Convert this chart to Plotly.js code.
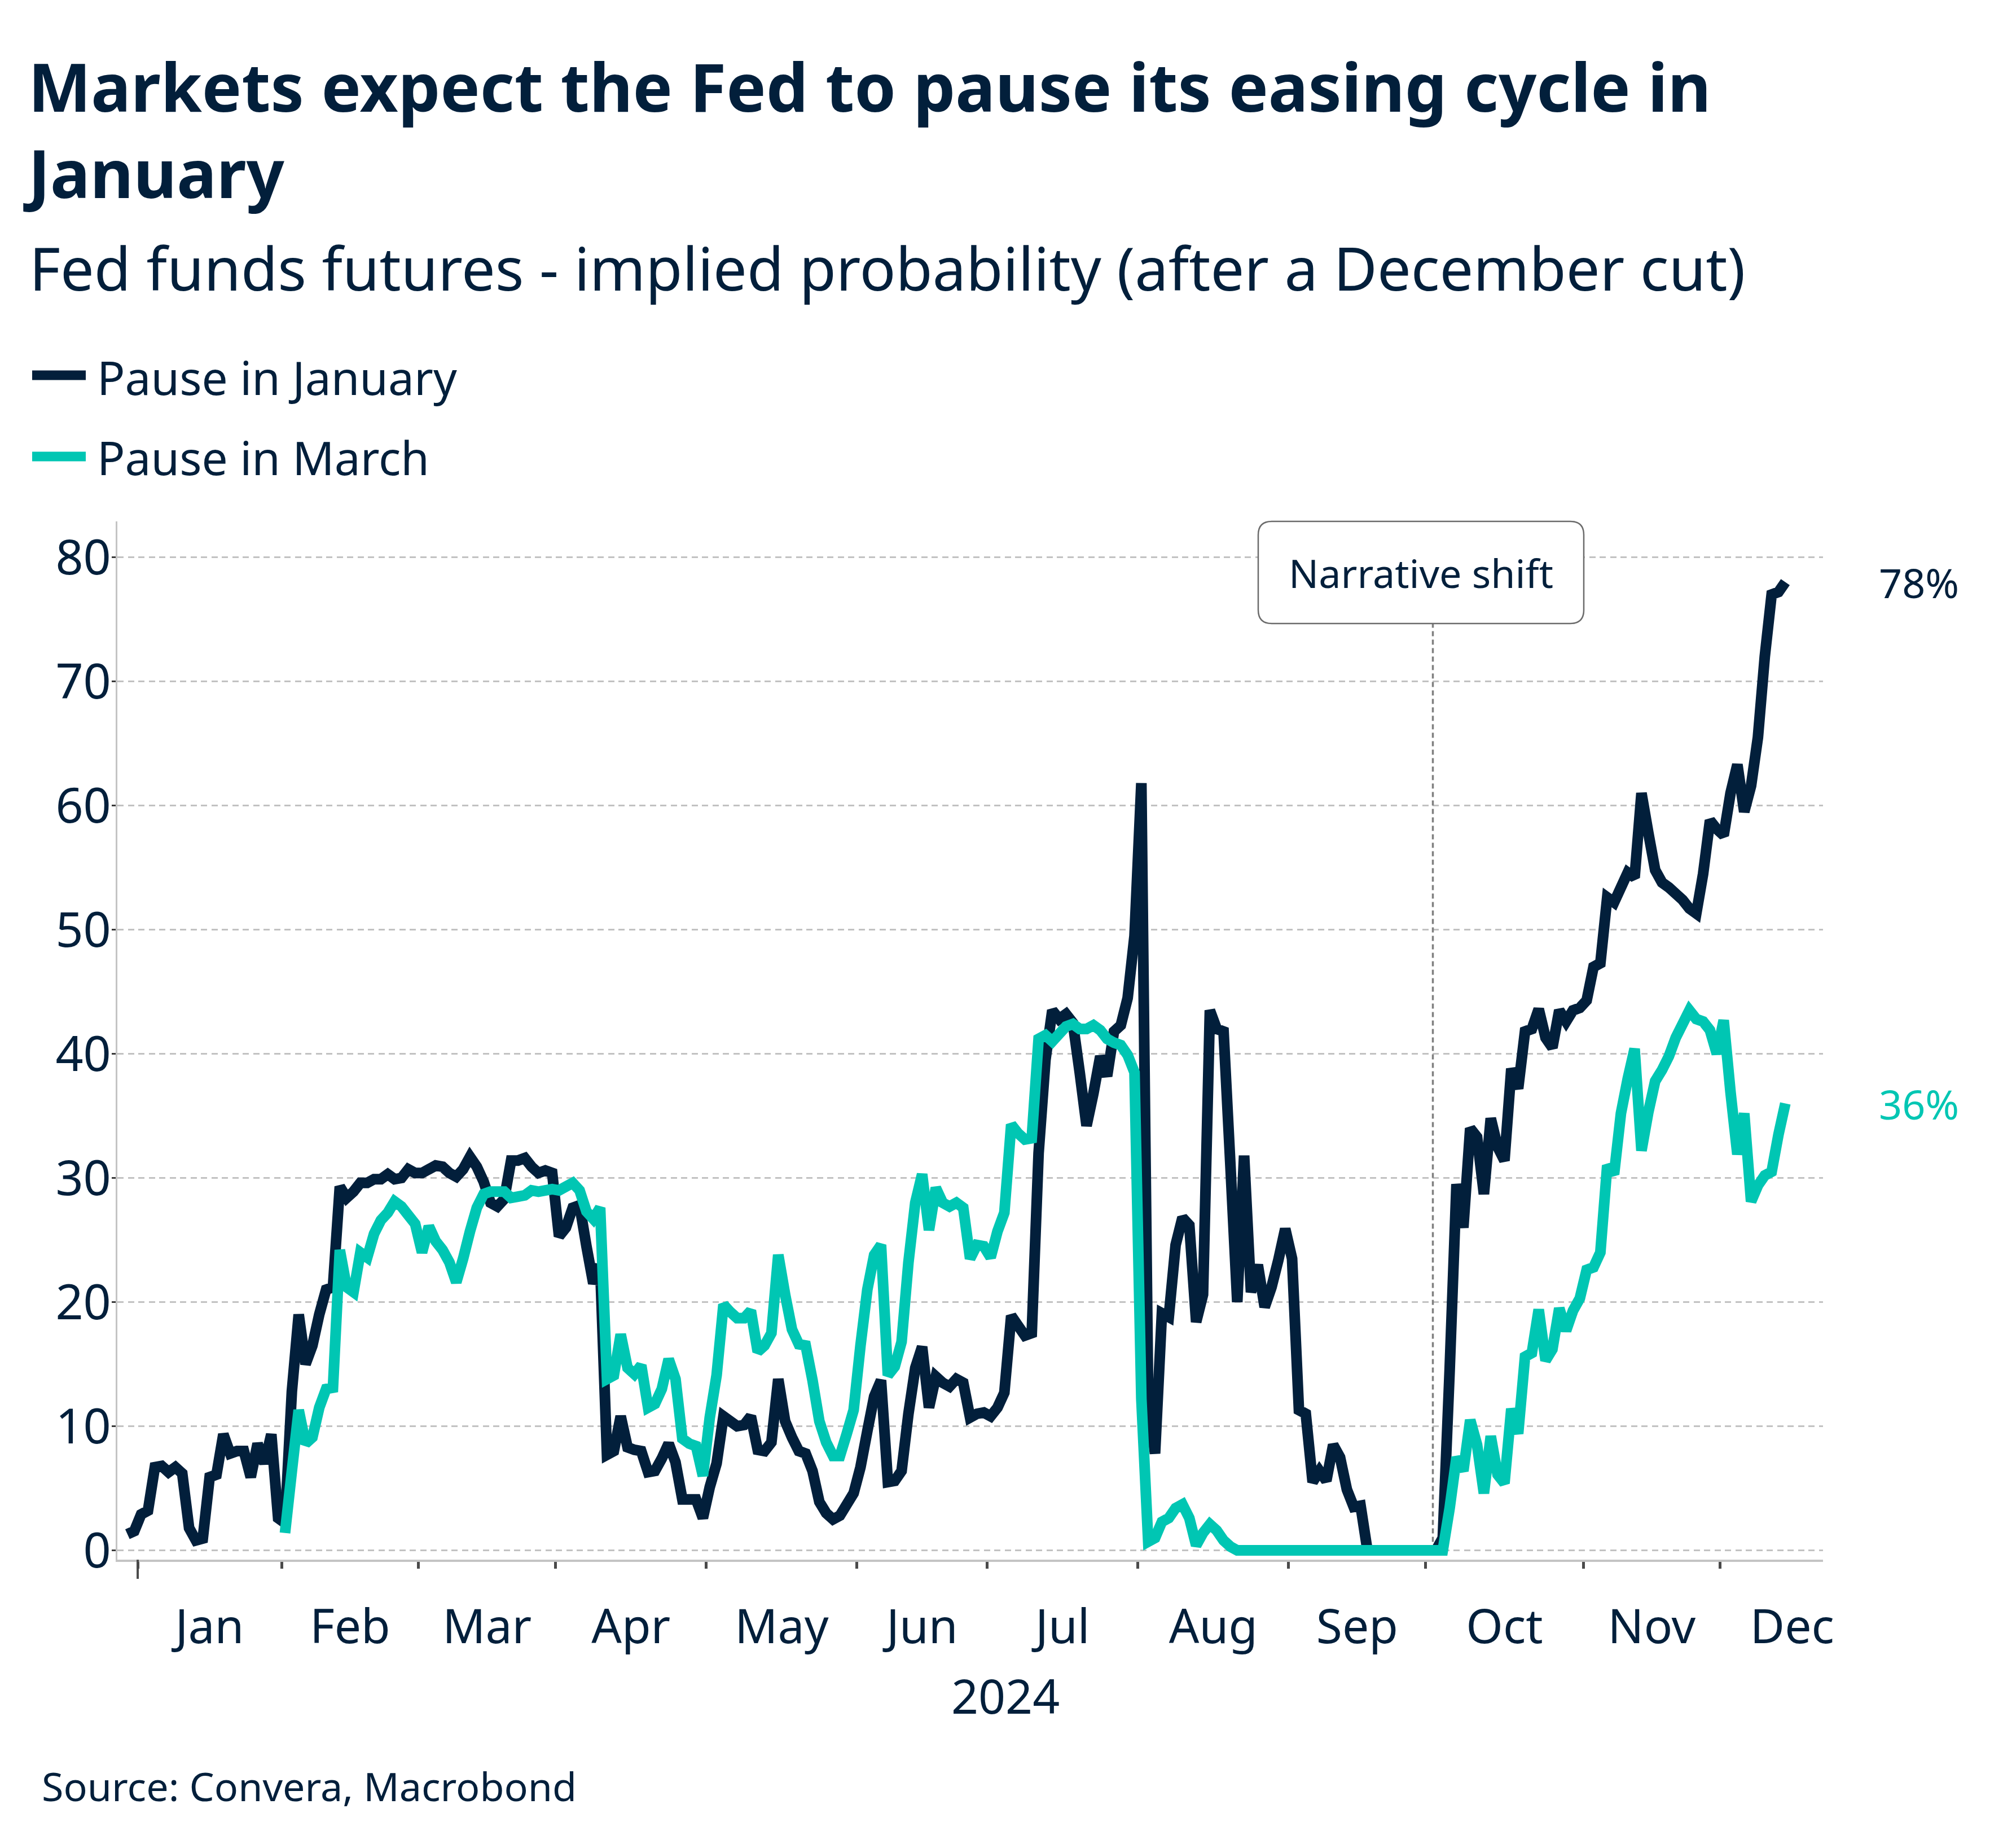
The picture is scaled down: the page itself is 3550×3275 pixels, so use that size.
<!DOCTYPE html>
<html>
<head>
<meta charset="utf-8">
<script src="https://cdn.plot.ly/plotly-3.0.1.min.js"></script>
<style>
  html, body { margin: 0; padding: 0; background: #ffffff; }
  #chart { width: 3550px; height: 3275px; }
</style>
</head>
<body>
<div id="chart"></div>
<script>
// ---------------- DATA ----------------
// x axis = trading-day index (Jan 2 2024 = 0); the series start two sessions earlier (late Dec 2023)
const monthLabels = ['Jan','Feb','Mar','Apr','May','Jun','Jul','Aug','Sep','Oct','Nov','Dec'];
const monthStartIdx = [0, 21, 41, 61, 83, 105, 124, 146, 168, 188, 211, 231];
const nextYearStartIdx = 252;
const janStartIdx = -2;   // first observation of "Pause in January"
const marStartIdx = 21;   // first observation of "Pause in March"
const narrativeShiftIdx = 188.55;
const narrativeShiftTop = 74.66;

// Pause in January (implied probability, %)
const janPause = [
  1.3, 1.55, 2.9, 3.2, 6.7, 6.8, 6.3, 6.7, 6.2, 1.8, 0.8, 0.95,
  5.9, 6.1, 9.35, 7.8, 8.0, 8.0, 5.9, 8.6, 7.0, 9.35, 2.6,
  2.2, 12.8, 19.0, 15.0, 16.5, 19.0, 21.0, 21.2, 29.3, 28.4,
  28.9, 29.6, 29.6, 29.9, 29.9, 30.3, 29.9, 30.0, 30.7, 30.4,
  30.4, 30.7, 31.0, 30.9, 30.4, 30.1, 30.7, 31.7, 30.9, 29.7,
  28.0, 27.7, 28.3, 31.4, 31.4, 31.6, 30.9, 30.4, 30.6, 30.4,
  25.3, 26.0, 27.6, 27.8, 24.5, 21.5, 23.0, 7.7, 8.0, 10.8,
  8.3, 8.1, 8.0, 6.3, 6.4, 7.4, 8.6, 7.1, 4.1, 4.1,
  4.1, 2.6, 5.1, 7.0, 10.8, 10.4, 10.0, 10.1, 10.8, 8.1,
  8.0, 8.7, 13.8, 10.4, 9.1, 8.0, 7.8, 6.4, 3.9, 3.0,
  2.5, 2.8, 3.7, 4.6, 6.7, 9.6, 12.4, 13.7, 5.5, 5.6,
  6.4, 11.0, 14.7, 16.4, 11.5, 14.0, 13.5, 13.2, 13.8, 13.5,
  10.7, 11.0, 11.1, 10.8, 11.5, 12.7, 18.9, 18.1, 17.3, 17.5,
  32.0, 39.5, 43.5, 42.8, 43.2, 42.5, 38.5, 34.2, 36.8, 39.8,
  38.2, 41.8, 42.3, 44.5, 49.5, 61.8, 12.0, 7.8, 19.1, 18.8,
  24.6, 26.8, 26.2, 18.4, 20.6, 43.5, 42.0, 41.8, 31.0, 20.0,
  31.8, 20.8, 23.0, 19.6, 21.2, 23.4, 25.9, 23.5, 11.3, 11.0,
  5.5, 6.4, 5.6, 8.5, 7.5, 4.9, 3.5, 3.6, 0, 0,
  0, 0, 0, 0, 0, 0, 0, 0, 0, 1.0,
  14.5, 29.5, 26.0, 34.0, 33.3, 28.7, 34.8, 32.5, 31.4, 38.8,
  37.2, 41.8, 42.0, 43.6, 41.3, 40.5, 43.5, 42.6, 43.5, 43.7,
  44.3, 47.0, 47.3, 52.6, 52.2, 53.4, 54.6, 54.2, 61.0, 57.8,
  54.8, 53.8, 53.4, 52.9, 52.4, 51.7, 51.3, 54.5, 58.8, 58.1,
  57.6, 61.0, 63.3, 59.5, 61.6, 65.5, 72.0, 77.0, 77.2, 78.0
];

// Pause in March (implied probability, %)
const marPause = [
  1.4, 6.4, 11.3, 8.6, 9.1, 11.5, 13.0, 13.1, 24.2, 21.2,
  20.8, 24.0, 23.6, 25.5, 26.6, 27.2, 28.1, 27.7, 27.0, 26.3,
  24.0, 26.1, 24.9, 24.2, 23.2, 21.6, 23.5, 25.7, 27.6, 28.7,
  28.9, 28.9, 28.9, 28.4, 28.5, 28.6, 29.0, 28.9, 29.0, 29.1,
  29.0, 29.3, 29.6, 29.0, 27.3, 26.7, 27.6, 13.8, 14.1, 17.4,
  14.7, 14.2, 14.9, 11.5, 11.8, 13.0, 15.4, 13.8, 9.0, 8.6,
  8.4, 6.0, 10.7, 14.1, 19.8, 19.2, 18.7, 18.7, 19.3, 16.0,
  16.5, 17.5, 23.8, 20.6, 17.8, 16.6, 16.5, 13.7, 10.4, 8.7,
  7.6, 7.6, 9.4, 11.3, 16.5, 21.0, 23.8, 24.6, 14.1, 14.8,
  16.8, 23.2, 28.0, 30.3, 25.8, 29.2, 28.0, 27.7, 28.0, 27.6,
  23.5, 24.6, 24.5, 23.6, 25.7, 27.2, 34.3, 33.6, 33.1, 33.2,
  41.2, 41.5, 41.0, 41.6, 42.2, 42.4, 42.0, 42.0, 42.3, 41.9,
  41.2, 40.9, 40.7, 39.9, 38.5, 12.2, 0.7, 1.0, 2.3, 2.6,
  3.4, 3.7, 2.6, 0.4, 1.4, 2.1, 1.6, 0.8, 0.3, 0,
  0, 0, 0, 0, 0, 0, 0, 0, 0, 0,
  0, 0, 0, 0, 0, 0, 0, 0, 0, 0,
  0, 0, 0, 0, 0, 0, 0, 0, 0, 0,
  3.4, 7.5, 6.4, 10.5, 8.5, 4.6, 9.2, 6.1, 5.4, 11.4,
  9.4, 15.6, 15.9, 19.4, 15.3, 16.2, 19.5, 17.7, 19.3, 20.3,
  22.6, 22.8, 24.0, 31.0, 30.3, 35.2, 38.0, 40.4, 32.2, 35.3,
  37.8, 38.7, 39.8, 41.3, 42.4, 43.5, 42.8, 42.6, 41.9, 40.0,
  42.7, 36.9, 31.9, 35.2, 28.1, 29.4, 30.2, 30.5, 33.5, 36.0
];

// ---------------- STYLE / LAYOUT ----------------
const NAVY = '#021f3b';
const TEAL = '#00c6b3';
const FONT = 'Noto Sans, Open Sans, sans-serif';
const LINE_W = 19;
const W = 3550, H = 3275;
const L = 208, R = 3231, T = 924, B = 2764;     // plot area in page pixels
const px = v => (v - L) / (R - L);               // page px -> paper x
const py = v => (B - v) / (B - T);               // page px -> paper y

const janX = janPause.map((_, k) => janStartIdx + k);
const marX = marPause.map((_, k) => marStartIdx + k);

const boundaries = monthStartIdx.map(s => s - 0.5);
const starts = monthStartIdx.concat([nextYearStartIdx]);
const labelPos = monthLabels.map((_, k) => (starts[k] + starts[k + 1]) / 2 - 0.5);

const traces = [
  { x: janX, y: janPause, type: 'scatter', mode: 'lines', name: 'Pause in January',
    line: { color: NAVY, width: LINE_W, simplify: false }, hoverinfo: 'skip', showlegend: false },
  { x: marX, y: marPause, type: 'scatter', mode: 'lines', name: 'Pause in March',
    line: { color: TEAL, width: LINE_W, simplify: false }, hoverinfo: 'skip', showlegend: false }
];

// rounded box for "Narrative shift"
const bx0 = 2230, bx1 = 2807, by0 = 924, by1 = 1105, br = 24;
const P = (x, y) => px(x).toFixed(6) + ',' + py(y).toFixed(6);
const boxPath = 'M' + P(bx0 + br, by0) + ' L' + P(bx1 - br, by0) +
  ' Q' + P(bx1, by0) + ' ' + P(bx1, by0 + br) + ' L' + P(bx1, by1 - br) +
  ' Q' + P(bx1, by1) + ' ' + P(bx1 - br, by1) + ' L' + P(bx0 + br, by1) +
  ' Q' + P(bx0, by1) + ' ' + P(bx0, by1 - br) + ' L' + P(bx0, by0 + br) +
  ' Q' + P(bx0, by0) + ' ' + P(bx0 + br, by0) + ' Z';

const lastJan = janPause[janPause.length - 1];
const lastMar = marPause[marPause.length - 1];
const lastIdx = janX[janX.length - 1];

const layout = {
  width: W, height: H,
  paper_bgcolor: '#ffffff', plot_bgcolor: '#ffffff',
  margin: { l: L, r: W - R, t: T, b: H - B, pad: 0 },
  showlegend: false,
  font: { family: FONT, color: NAVY },
  title: {
    text: 'Markets expect the Fed to pause its easing cycle in<br>January',
    x: 50 / W, xref: 'container', xanchor: 'left',
    y: 1 - 198 / H, yref: 'container', yanchor: 'top',
    font: { family: FONT, size: 118, weight: 700, color: NAVY }
  },
  xaxis: {
    range: [-3.47, 245.5],
    showgrid: false, zeroline: false,
    showline: true, linecolor: '#c4c4c4', linewidth: 3.5,
    tickmode: 'array', tickvals: labelPos, ticktext: monthLabels,
    ticks: '', ticklabelstandoff: 44,
    tickfont: { family: FONT, size: 84, color: NAVY },
    minor: { tickmode: 'array', tickvals: boundaries, ticks: 'outside',
             ticklen: 12, tickwidth: 5, tickcolor: '#4a4a4a', showgrid: false },
    fixedrange: true
  },
  yaxis: {
    range: [-0.75, 82.89],
    tickmode: 'linear', tick0: 0, dtick: 10,
    showgrid: true, gridcolor: '#c2c2c2', gridwidth: 2.7, griddash: '11px,7.5px',
    zeroline: false,
    showline: true, linecolor: '#c4c4c4', linewidth: 3,
    ticks: 'outside', ticklen: 7, tickwidth: 3.5, tickcolor: '#3a3a3a',
    ticklabelstandoff: -16,
    tickfont: { family: FONT, size: 86, color: NAVY },
    fixedrange: true
  },
  shapes: [
    { type: 'line', xref: 'x', yref: 'y', x0: narrativeShiftIdx, x1: narrativeShiftIdx,
      y0: 0, y1: narrativeShiftTop, layer: 'between',
      line: { color: '#808080', width: 3.5, dash: '9px,6px' } },
    { type: 'path', xref: 'paper', yref: 'paper', path: boxPath, layer: 'above',
      fillcolor: '#ffffff', line: { color: '#6b6b6b', width: 2.5 } },
    { type: 'line', xref: 'x', yref: 'paper', x0: boundaries[0], x1: boundaries[0],
      ysizemode: 'pixel', yanchor: 0, y0: 0, y1: -34,
      line: { color: '#4a4a4a', width: 4 } },
    { type: 'line', xref: 'paper', yref: 'paper', x0: px(57), x1: px(152), y0: py(665), y1: py(665),
      line: { color: NAVY, width: 17 } },
    { type: 'line', xref: 'paper', yref: 'paper', x0: px(57), x1: px(152), y0: py(809), y1: py(809),
      line: { color: TEAL, width: 17 } }
  ],
  annotations: [
    { text: 'Fed funds futures - implied probability (after a December cut)',
      xref: 'paper', yref: 'paper', x: px(50), y: py(474), xanchor: 'left', yanchor: 'middle',
      showarrow: false, font: { family: FONT, size: 106, color: NAVY } },
    { text: 'Pause in January', xref: 'paper', yref: 'paper', x: px(170), y: py(668),
      xanchor: 'left', yanchor: 'middle', showarrow: false,
      font: { family: FONT, size: 82, color: NAVY } },
    { text: 'Pause in March', xref: 'paper', yref: 'paper', x: px(170), y: py(810),
      xanchor: 'left', yanchor: 'middle', showarrow: false,
      font: { family: FONT, size: 82, color: NAVY } },
    { text: 'Narrative shift', xref: 'paper', yref: 'paper', x: px(2518), y: py(1015),
      xanchor: 'center', yanchor: 'middle', showarrow: false,
      font: { family: FONT, size: 70, color: NAVY } },
    { text: '2024', xref: 'paper', yref: 'paper', x: px(1782), y: py(3004),
      xanchor: 'center', yanchor: 'middle', showarrow: false,
      font: { family: FONT, size: 84, color: NAVY } },
    { text: 'Source: Convera, Macrobond', xref: 'paper', yref: 'paper', x: px(72), y: py(3165),
      xanchor: 'left', yanchor: 'middle', showarrow: false,
      font: { family: FONT, size: 70, color: NAVY } },
    { text: Math.round(lastJan) + '%', xref: 'x', yref: 'y', x: lastIdx, y: lastJan,
      xshift: 164, xanchor: 'left', yanchor: 'middle', showarrow: false,
      font: { family: FONT, size: 72, color: NAVY } },
    { text: Math.round(lastMar) + '%', xref: 'x', yref: 'y', x: lastIdx, y: lastMar,
      xshift: 164, xanchor: 'left', yanchor: 'middle', showarrow: false,
      font: { family: FONT, size: 72, color: TEAL } }
  ]
};

Plotly.newPlot('chart', traces, layout, { displayModeBar: false, staticPlot: true });
</script>
</body>
</html>
